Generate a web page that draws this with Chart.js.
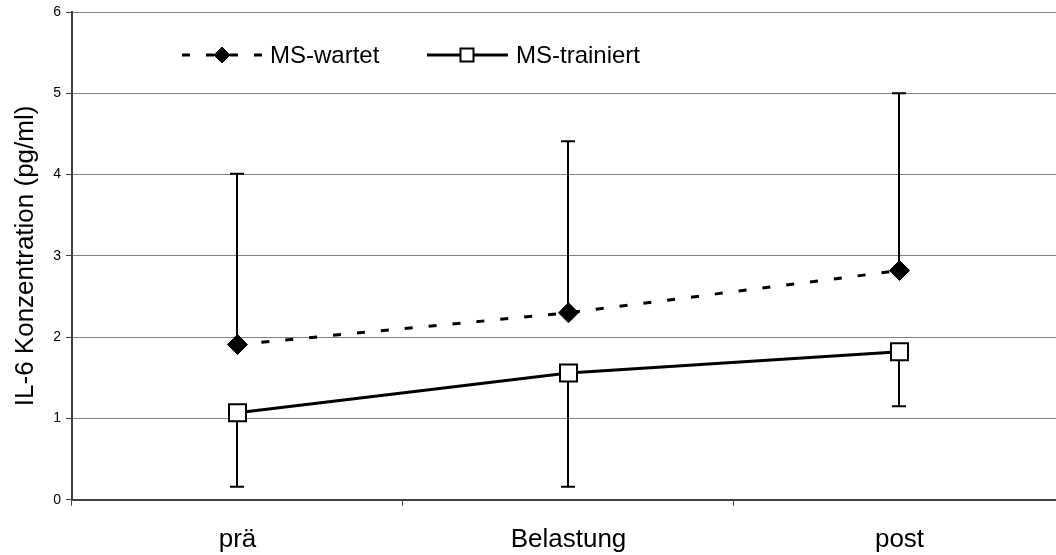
<!DOCTYPE html>
<html lang="de">
<head>
<meta charset="utf-8">
<title>IL-6 Konzentration</title>
<script src="https://cdn.jsdelivr.net/npm/chart.js@4.4.1/dist/chart.umd.min.js"></script>
<style>
  html, body { margin: 0; padding: 0; background: #ffffff; overflow: hidden; }
  #wrap { width: 1066px; height: 555px; }
</style>
</head>
<body>
<div id="wrap"><canvas id="chart" width="1066" height="555"></canvas></div>
<script>
// Messzeitpunkte
const categories = ['prä', 'Belastung', 'post'];

// Mittelwerte je Gruppe (pg/ml)
const wartetValues = [1.91, 2.30, 2.82];
const trainiertValues = [1.07, 1.56, 1.82];

// Streuung: obere Grenze für MS-wartet, untere Grenze für MS-trainiert
const wartetUpper = [4.01, 4.41, 5.00];
const trainiertLower = [0.16, 0.16, 1.15];

// Y-Achse
const yTicks = [0, 1, 2, 3, 4, 5, 6];

const FONT = '"Liberation Sans", Arial, sans-serif';

// Fehlerbalken hinter den Markern zeichnen
const errorBarPlugin = {
  id: 'errorBars',
  beforeDatasetsDraw(chart) {
    const ctx = chart.ctx;
    const x = chart.scales.x, y = chart.scales.y;
    const bars = [
      { values: wartetValues, ends: wartetUpper },
      { values: trainiertValues, ends: trainiertLower }
    ];
    ctx.save();
    ctx.strokeStyle = '#000000';
    ctx.lineWidth = 2;
    bars.forEach(b => {
      b.values.forEach((v, i) => {
        const px = Math.round(x.getPixelForValue(i));
        const y0 = y.getPixelForValue(v);
        const y1 = y.getPixelForValue(b.ends[i]);
        ctx.beginPath();
        ctx.moveTo(px, y0);
        ctx.lineTo(px, y1);
        ctx.moveTo(px - 7, y1);
        ctx.lineTo(px + 7, y1);
        ctx.stroke();
      });
    });
    ctx.restore();
  }
};

// Legende im Diagrammfeld: Linienmuster mit Marker und Beschriftung
const legendPlugin = {
  id: 'lineLegend',
  afterDatasetsDraw(chart) {
    const ctx = chart.ctx;
    const entries = [
      { ds: chart.data.datasets[0], x0: 182, x1: 262, mx: 222, tx: 270, radius: 8, bw: 1 },
      { ds: chart.data.datasets[1], x0: 427, x1: 508, mx: 467, tx: 516, radius: 9.2, bw: 2 }
    ];
    const ly = 55;
    ctx.save();
    entries.forEach(e => {
      ctx.strokeStyle = '#000000';
      ctx.lineWidth = 3;
      ctx.setLineDash(e.ds.borderDash || []);
      ctx.beginPath();
      ctx.moveTo(e.x0, ly);
      ctx.lineTo(e.x1, ly);
      ctx.stroke();
      ctx.setLineDash([]);
      ctx.fillStyle = e.ds.pointBackgroundColor;
      ctx.strokeStyle = e.ds.pointBorderColor;
      ctx.lineWidth = e.bw;
      Chart.helpers.drawPoint(ctx, { pointStyle: e.ds.pointStyle, radius: e.radius, rotation: 0, borderWidth: e.bw }, e.mx, ly);
      ctx.fillStyle = '#000000';
      ctx.font = '24px ' + FONT;
      ctx.textAlign = 'left';
      ctx.textBaseline = 'middle';
      ctx.fillText(e.ds.label, e.tx, ly + 1);
    });
    ctx.restore();
  }
};

new Chart(document.getElementById('chart'), {
  type: 'line',
  data: {
    labels: categories,
    datasets: [
      {
        label: 'MS-wartet',
        data: wartetValues,
        borderColor: '#000000',
        borderWidth: 3,
        borderDash: [8, 16],
        pointStyle: 'rectRot',
        pointRadius: 10,
        pointHoverRadius: 10,
        pointBackgroundColor: '#000000',
        pointBorderColor: '#000000',
        pointBorderWidth: 1,
        tension: 0,
        fill: false
      },
      {
        label: 'MS-trainiert',
        data: trainiertValues,
        borderColor: '#000000',
        borderWidth: 3,
        pointStyle: 'rect',
        pointRadius: 12,
        pointHoverRadius: 12,
        pointBackgroundColor: '#ffffff',
        pointBorderColor: '#000000',
        pointBorderWidth: 2,
        tension: 0,
        fill: false
      }
    ]
  },
  options: {
    responsive: false,
    animation: false,
    devicePixelRatio: 1,
    layout: { autoPadding: false, padding: { top: 12, right: 1, bottom: -18, left: 0 } },
    plugins: {
      legend: { display: false },
      tooltip: { enabled: false }
    },
    scales: {
      x: {
        type: 'category',
        offset: true,
        grid: {
          display: true,
          offset: true,
          drawOnChartArea: false,
          drawTicks: true,
          tickLength: 6,
          tickColor: '#404040',
          tickWidth: 1
        },
        border: { display: true, color: '#404040', width: 2 },
        ticks: {
          color: '#000000',
          font: { family: FONT, size: 26 },
          padding: 18,
          maxRotation: 0
        },
        afterFit(scale) {
          scale.paddingLeft = 0;
          scale.paddingRight = 0;
        }
      },
      y: {
        min: 0,
        max: 6,
        afterBuildTicks(scale) {
          scale.ticks = yTicks.map(v => ({ value: v }));
        },
        afterFit(scale) {
          scale.paddingTop = 0;
          scale.paddingBottom = 0;
        },
        grid: {
          color: '#808080',
          lineWidth: 1,
          drawTicks: true,
          tickLength: 6,
          tickColor: '#404040',
          tickWidth: 1
        },
        border: { display: true, color: '#404040', width: 2 },
        ticks: {
          color: '#000000',
          font: { family: FONT, size: 14 },
          padding: 5
        },
        title: {
          display: true,
          text: 'IL-6 Konzentration (pg/ml)',
          color: '#000000',
          font: { family: FONT, size: 26, weight: 'normal' },
          padding: { top: 10, bottom: 7 }
        }
      }
    }
  },
  plugins: [errorBarPlugin, legendPlugin]
});
</script>
</body>
</html>
